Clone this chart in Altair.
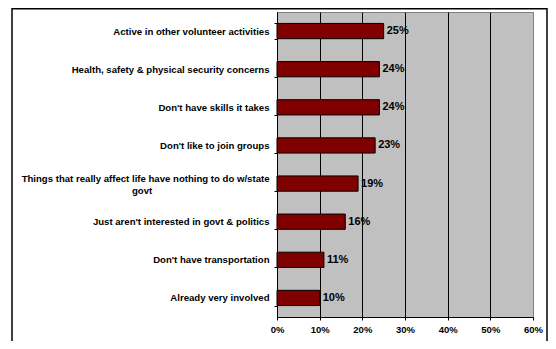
import altair as alt
import pandas as pd

categories = [
    "Active in other volunteer activities",
    "Health, safety & physical security concerns",
    "Don't have skills it takes",
    "Don't like to join groups",
    "Things that really affect life have nothing to do w/state govt",
    "Just aren't interested in govt & politics",
    "Don't have transportation",
    "Already very involved",
]
values = [25, 24, 24, 23, 19, 16, 11, 10]
x_ticks = [0, 10, 20, 30, 40, 50, 60]

df = pd.DataFrame({"cat": categories, "val": values})
df["lbl"] = [f"{v}%" for v in values]

FONT = "Liberation Sans"
LONG = "Things that really affect life have nothing to do w/state govt"
pad = "\u00a0" * 44 + "\u200b"
label_expr = (
    "datum.label == '" + LONG + "' ? "
    "['Things that really affect life have nothing to do w/state', 'govt" + pad + "'] : datum.label"
)

y_enc = alt.Y(
    "cat:N",
    sort=categories,
    title=None,
    scale=alt.Scale(paddingInner=0.6, paddingOuter=0.3),
    axis=alt.Axis(
        tickBand="extent",
        tickSize=3,
        tickColor="black",
        domainColor="black",
        labelPadding=5,
        labelFont=FONT,
        labelFontSize=9.6,
        labelFontWeight="bold",
        labelColor="black",
        labelLimit=320,
        labelLineHeight=12,
        labelExpr=label_expr,
        labelOffset={"condition": {"test": "datum.label == '" + LONG + "'", "value": -5}, "value": 0},
        grid=False,
    ),
)
x_enc = alt.X(
    "val:Q",
    title=None,
    scale=alt.Scale(domain=[0, 60], nice=False),
    axis=alt.Axis(
        values=x_ticks,
        labelExpr="datum.value + '%'",
        labelFlush=False,
        tickSize=3,
        tickColor="black",
        domainColor="black",
        labelPadding=4,
        labelFont=FONT,
        labelFontSize=9.5,
        labelFontWeight="bold",
        labelColor="black",
        grid=True,
        gridColor={"condition": {"test": "datum.value >= 60", "value": "#808080"}, "value": "black"},
        gridOpacity=1,
        gridWidth=1,
    ),
)

bars = alt.Chart(df).mark_bar(color="#800000", stroke="black", strokeWidth=1).encode(x=x_enc, y=y_enc)
texts = alt.Chart(df).mark_text(
    align="left", baseline="middle", dx=3, font=FONT, fontSize=11, fontWeight="bold", color="black"
).encode(x="val:Q", y=alt.Y("cat:N", sort=categories), text="lbl:N")

frame = alt.Chart(pd.DataFrame({"a": [0]})).mark_rect(
    fill=None, stroke="black", strokeWidth=1.5
).encode(
    x=alt.value(-265), x2=alt.value(270), y=alt.value(-3.3), y2=alt.value(360)
)

chart = (
    alt.layer(bars, texts, frame)
    .properties(
        width=256,
        height=305,
        padding={"left": 269, "top": 4, "right": 15, "bottom": 24},
        autosize=alt.AutoSizeParams(type="none"),
        background="white",
    )
    .configure_view(fill="#C0C0C0", stroke="#808080", strokeWidth=1)
)

chart.save("out.html", embed_options={"renderer": "svg", "actions": False})
